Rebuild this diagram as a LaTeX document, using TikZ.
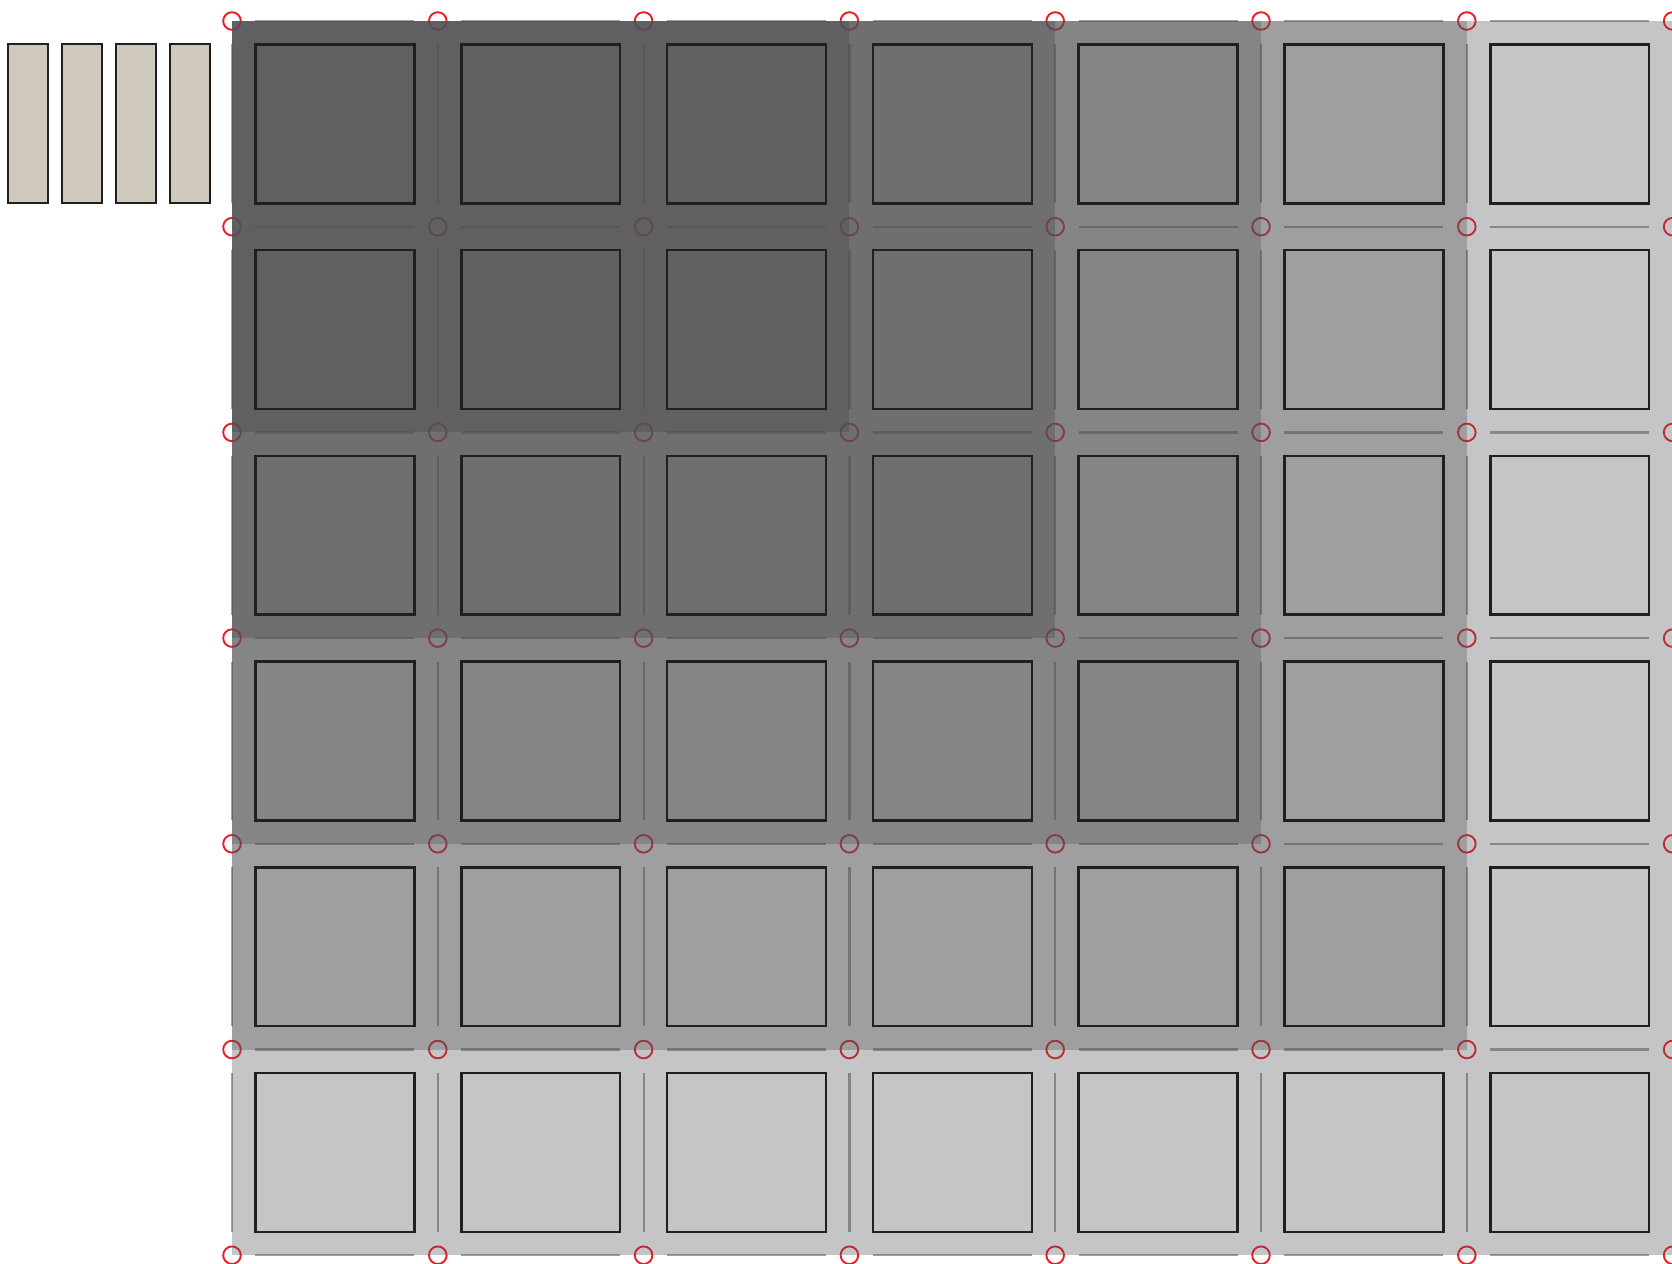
\documentclass[tikz,border=0pt]{standalone}
\usepackage{xcolor}
\usetikzlibrary{calc}
\definecolor{inkblack}{RGB}{35,31,32}
\definecolor{sandbeige}{RGB}{207,201,189}
\definecolor{layergray}{RGB}{80,80,84}
\definecolor{seamgray}{RGB}{160,161,163}
\definecolor{pinred}{RGB}{237,28,36}

\begin{document}
\begin{tikzpicture}[x=1pt, y=-1pt,
  peg/.style={draw=inkblack, fill=sandbeige, line width=2.5pt},
  tile/.style={draw=inkblack, line width=2.5pt},
  seam/.style={draw=seamgray, line width=2.2pt},
  pinring/.style={draw=pinred, line width=1.9pt},
  layer/.style={fill=layergray, fill opacity=#1},
]
\useasboundingbox (0,0) rectangle (1672,1263);

% spare pegs on the left
\foreach \k in {0,...,3}
  \draw[peg] ({8+54*\k},44) rectangle ++(40,159);

\begin{scope}[shift={(232,21)}, x=205.8pt, y=-205.7pt]
  % pins at every grid crossing
  \foreach \i in {0,...,7}
    \foreach \j in {0,...,6}
      \draw[pinring] (\i,\j) circle (8.8pt);

  % seams along the grid lines
  \foreach \i in {0,...,6}
    \foreach \j in {0,...,6}
      \draw[seam] (\i+0.114,\j) -- (\i+0.886,\j);
  \foreach \i in {0,...,7}
    \foreach \j in {0,...,5}
      \draw[seam] (\i,\j+0.114) -- (\i,\j+0.886);

  % stacked translucent layers, darker towards the top left
  \foreach \k/\op in {1/0.33, 2/0.33, 3/0.33, 4/0.41, 5/0.48}
    \fill[layer=\op] (0,0) rectangle ({8-\k},{7-\k});

  % tiles
  \foreach \i in {0,...,6}
    \foreach \j in {0,...,5}
      \draw[tile] (\i+0.114,\j+0.114) rectangle (\i+0.886,\j+0.886);
\end{scope}

\end{tikzpicture}
\end{document}
